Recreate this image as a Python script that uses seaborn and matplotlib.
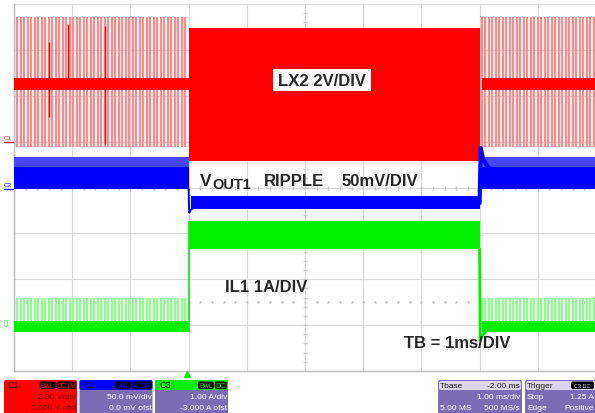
import numpy as np
import matplotlib.pyplot as plt
import seaborn as sns
from matplotlib.patches import FancyBboxPatch, Rectangle

# Scope screen: 10 x 8 divisions, 1 ms/div
n_xdiv = 10
n_ydiv = 8
load_on_ms = 3.0
load_off_ms = 8.0
burst_period_ms = 0.06   # spacing of light-load switching bursts

# Trace levels in screen divisions (0 = bottom graticule line)
lx2_light_pulse = [4.88, 7.71]
lx2_light_ring = [6.12, 6.38]
lx2_heavy = [4.58, 7.47]
lx2_spike_t = [0.60, 0.93, 1.56]
lx2_spike_lo = [5.53, 6.36, 4.95]
lx2_spike_hi = [7.17, 7.56, 7.52]

vout_light = [3.97, 4.66]
vout_light_core = [3.97, 4.45]
vout_heavy = [3.53, 3.81]
vout_on_t = [3.00, 3.01, 3.04, 3.10, 3.20]
vout_on_v = [3.97, 3.45, 3.52, 3.57, 3.62]
vout_off_t = [8.00, 8.02, 8.06, 8.14, 8.25]
vout_off_v = [3.66, 4.86, 4.62, 4.45, 4.35]

il1_light_band = [0.85, 1.09]
il1_light_pulse_top = 1.59
il1_heavy = [2.66, 3.27]
il1_off_t = [8.00, 8.01, 8.05, 8.12]
il1_off_v = [2.66, 0.66, 0.78, 0.88]

trig_level = 1.50

# status bar text
ch_boxes = [
    ("C1", ["BwL", "DC1M"], "2.00 V/div", "2.000 V ofst", "#ff0000"),
    ("C2", ["BwL", "AC1M"], "50.0 mV/div", "0.0 mV ofst", "#0000ff"),
    ("C3", ["BwL", "DC"], "1.00 A/div", "-3.000 A ofst", "#00ee00"),
]
tbase_rows = [("Tbase", "-2.00 ms"), ("", "1.00 ms/div"), ("5.00 MS", "500 MS/s")]
trig_rows = [("Trigger", ""), ("Stop", "1.25 A"), ("Edge", "Positive")]

RED = "#ff0000"
PINK = "#ff8a8a"
BLUE = "#0000ff"
GREEN = "#00f000"
LGREEN = "#8cff8c"
PURPLE = "#7a6db5"

sns.set_theme(style="white")
plt.rcParams["font.family"] = ["Liberation Sans", "DejaVu Sans"]

W, H = 595, 414
fig = plt.figure(figsize=(W / 100, H / 100), dpi=100)
fig.patch.set_facecolor("white")

x0, x1, y0, y1 = 14, 596, 5, 372
ax = fig.add_axes([x0 / W, (H - y1) / H, (x1 - x0) / W, (y1 - y0) / H])
ax.set_xlim(0, n_xdiv)
ax.set_ylim(0, n_ydiv)
ax.set_xticks(range(n_xdiv + 1))
ax.set_yticks(range(n_ydiv + 1))
ax.tick_params(length=0, labelbottom=False, labelleft=False)
ax.grid(True, color="#dadada", lw=0.8)
for s in ["top", "right"]:
    ax.spines[s].set_visible(False)
for s in ["left", "bottom"]:
    ax.spines[s].set_color("#bdbdbd")
    ax.spines[s].set_linewidth(1.0)
ax.axhline(n_ydiv, color="#e0e0e0", lw=0.8)

# centre-line minor ticks and trigger level dots
minor = np.arange(0, n_xdiv, 0.2)
ax.plot(minor, np.full(len(minor), n_ydiv / 2), "|", color="#c8c8c8", ms=3, zorder=1)
ax.plot(np.full(40, n_xdiv / 2), np.arange(0, n_ydiv, 0.2), "_", color="#c8c8c8", ms=3, zorder=1)
ax.plot(minor, np.full(len(minor), trig_level), ".", color="#c8c8c8", ms=1.5, zorder=1)

light_segs = [(0.0, load_on_ms), (load_off_ms + 0.04, n_xdiv)]

# LX2 switch node
for a, b in light_segs:
    t = np.arange(a, b, burst_period_ms)
    ax.vlines(t, lx2_light_pulse[0], lx2_light_pulse[1], color=PINK, lw=1.6, zorder=2)
    ax.fill_between([a, b], lx2_light_ring[0], lx2_light_ring[1], color=RED, lw=0, zorder=3)
ax.vlines(lx2_spike_t, lx2_spike_lo, lx2_spike_hi, color=RED, lw=1.0, zorder=3)
ax.fill_between([load_on_ms, load_off_ms], lx2_heavy[0], lx2_heavy[1], color=RED, lw=0, zorder=3)

# VOUT1 ripple
for a, b in light_segs:
    ax.fill_between([a, b], vout_light[0], vout_light[1], color="#4646ff", lw=0, zorder=3)
    ax.fill_between([a, b], vout_light_core[0], vout_light_core[1], color=BLUE, lw=0, zorder=3)
ax.fill_between([vout_on_t[2], load_off_ms], vout_heavy[0], vout_heavy[1], color=BLUE, lw=0, zorder=3)
sns.lineplot(x=vout_on_t, y=vout_on_v, color=BLUE, lw=1.4, ax=ax, zorder=3)
sns.lineplot(x=vout_off_t, y=vout_off_v, color=BLUE, lw=3.0, ax=ax, zorder=3)

# IL1 inductor current
for a, b in light_segs:
    t = np.arange(a, b, burst_period_ms)
    ax.vlines(t, il1_light_band[0], il1_light_pulse_top, color=LGREEN, lw=1.6, zorder=2)
    ax.fill_between([a, b], il1_light_band[0], il1_light_band[1], color=GREEN, lw=0, zorder=3)
ax.fill_between([load_on_ms, load_off_ms], il1_heavy[0], il1_heavy[1], color=GREEN, lw=0, zorder=3)
ax.vlines(load_on_ms, il1_light_band[0], il1_heavy[1], color=GREEN, lw=1.2, zorder=3)
sns.lineplot(x=il1_off_t, y=il1_off_v, color=GREEN, lw=2.0, ax=ax, zorder=3)

# overlay in pixel coordinates for labels and status bar
ov = fig.add_axes([0, 0, 1, 1], zorder=5)
ov.set_xlim(0, W)
ov.set_ylim(H, 0)
ov.axis("off")
ov.patch.set_alpha(0)

ov.add_patch(Rectangle((273, 70), 98, 22, color="white", lw=0))
ov.text(322, 81.5, "LX2 2V/DIV", fontsize=12, fontweight="bold", ha="center", va="center")
ov.text(200, 186, "V", fontsize=12.5, fontweight="bold", va="baseline")
ov.text(212, 189, "OUT1", fontsize=10.5, fontweight="bold", va="baseline")
ov.text(264, 186, "RIPPLE", fontsize=12, fontweight="bold", va="baseline")
ov.text(342, 186, "50mV/DIV", fontsize=12, fontweight="bold", va="baseline")
ov.text(225, 292, "IL1 1A/DIV", fontsize=12, fontweight="bold", va="baseline")
ov.text(404, 348, "TB = 1ms/DIV", fontsize=12, fontweight="bold", va="baseline")

# channel ground markers
ov.text(4, 139, "C1", fontsize=4.5, color=RED, va="center")
ov.plot([4, 13], [143, 143], color=RED, lw=1)
ov.text(4, 186, "C2", fontsize=4.5, color=BLUE, va="center")
ov.plot([4, 13], [190, 190], color=BLUE, lw=1)
ov.text(7, 322, "C3", fontsize=4.5, color=GREEN, va="center", ha="center", rotation=90)
ov.plot([187], [375], marker="^", color=GREEN, ms=5)


def box(xa, ya, xb, yb, fc):
    ov.add_patch(FancyBboxPatch((xa, ya), xb - xa, yb - ya,
                                boxstyle="round,pad=0,rounding_size=2", fc=fc, ec="none"))


fs = 6
for i, (name, tags, l1, l2, col) in enumerate(ch_boxes):
    xa = 4 + i * 75.5
    xb = xa + 73
    body = col if i == 0 else PURPLE
    txt = "#700000" if i == 0 else "white"
    box(xa, 381, xb, 416, body)
    box(xa, 381, xb, 391, col)
    ov.text(xa + 4, 386, name, fontsize=6.5, color="#300000" if i == 0 else "#101040", va="center")
    tx = xb - 1
    for tg in reversed(tags):
        wdt = 5 + 3.6 * len(tg)
        box(tx - wdt, 382.5, tx, 390, "black")
        ov.text(tx - wdt / 2, 386.3, tg, fontsize=5, color=col, ha="center", va="center")
        tx -= wdt + 1
    ov.text(xb - 1, 397.5, l1, fontsize=fs, color=txt, ha="right", va="center")
    ov.text(xb - 1, 408.5, l2, fontsize=fs, color=txt, ha="right", va="center")

for xa, xb, rows in [(438, 522, tbase_rows), (525, 600, trig_rows)]:
    box(xa, 381, xb, 416, PURPLE)
    box(xa + 1, 382, xb - 1, 391, "#dcd6ec")
    for j, (lt, rt) in enumerate(rows):
        yy = 386.5 + j * 11
        c = "#202020" if j == 0 else "white"
        ov.text(xa + 2, yy, lt, fontsize=fs, color=c, va="center")
        ov.text(xb - 2 if xb < 595 else 594, yy, rt, fontsize=fs, color=c, ha="right", va="center")
box(571, 382.5, 594, 390, "black")
ov.text(582, 386.3, "C3 DC", fontsize=4, color="#dcd6ec", ha="center", va="center")

fig.savefig("out.png", dpi=100)
